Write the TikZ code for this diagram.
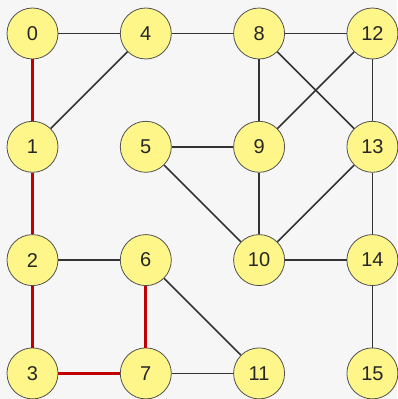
\documentclass[tikz,border=0pt]{standalone}
\usepackage{fontspec}
\setmainfont{Liberation Sans}
\usetikzlibrary{positioning}
\definecolor{bgGray}{HTML}{F6F6F6}
\definecolor{vtxFill}{HTML}{FFF68A}
\definecolor{vtxRim}{HTML}{505050}
\definecolor{edgeInk}{HTML}{333333}
\definecolor{pathRed}{HTML}{C00000}

\begin{document}
\begin{tikzpicture}[
  x=1pt, y=-1pt,
  vtx/.style={circle, draw=vtxRim, fill=vtxFill, line width=0.8pt, minimum size=51pt, inner sep=0pt,
    font=\fontsize{20}{24}\selectfont, text=black!85},
  edge/.style={draw=edgeInk, line width=1.6pt},
  hot/.style={draw=pathRed, line width=3pt},
]
% =========================== CANVAS ===========================
\fill[bgGray] (0,0) rectangle (397,399);
\useasboundingbox (0,0) rectangle (397,399);

% =========================== VERTICES (4x4 grid) ===========================
\def\gx{32.5}\def\gy{33.5}\def\gs{113.3}
\foreach \n in {0,...,15}{
  \pgfmathtruncatemacro\cc{int(\n/4)}
  \pgfmathtruncatemacro\rr{mod(\n,4)}
  \node[vtx] (v\n) at ({\gx+\cc*\gs},{\gy+\rr*\gs}) {\n};}

% =========================== EDGES ===========================
\foreach \a/\b in {0/4,4/8,8/12,1/4,2/6,6/11,7/11,5/9,5/10,8/9,8/13,12/9,12/13,9/10,13/10,13/14,10/14,14/15}
  \draw[edge] (v\a) -- (v\b);
% highlighted path
\foreach \a/\b in {0/1,1/2,2/3,3/7,7/6}
  \draw[hot] (v\a) -- (v\b);

\end{tikzpicture}
\end{document}
